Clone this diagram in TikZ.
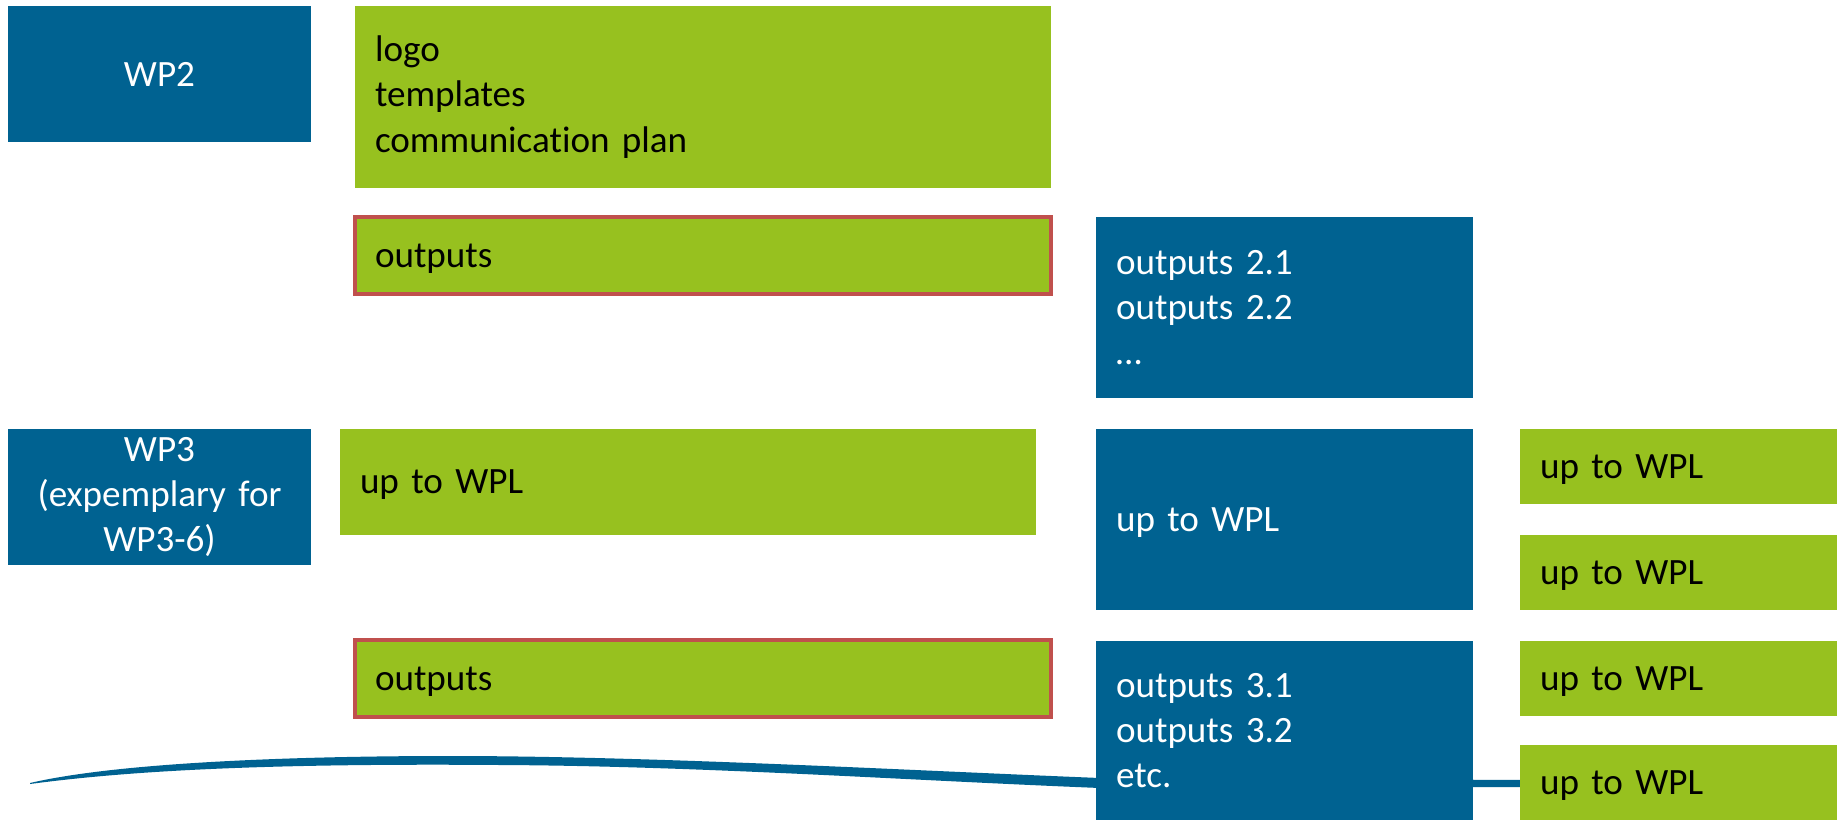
\documentclass[tikz,border=0pt]{standalone}
\usepackage{fontspec}
\setmainfont[Ligatures=NoCommon]{Carlito}
\usetikzlibrary{positioning}
\definecolor{wpblue}{RGB}{0,98,145}
\definecolor{wpgreen}{RGB}{151,193,31}
\definecolor{wpred}{RGB}{192,80,77}

\begin{document}
\begin{tikzpicture}[font=\fontsize{10.56}{12.9}\selectfont,
    box/.style={anchor=north west, inner ysep=0pt, inner xsep=0.2cm, outer sep=0pt},
    one line/.style={text depth=0pt},
    wp node/.style={box, fill=wpblue, text=white, text width=2.63cm, align=center, minimum height=1.36cm},
    task node/.style={box, fill=wpgreen, text=black, text width=6.56cm, align=left},
    out node/.style={task node, one line, draw=wpred, line width=0.045cm, minimum height=0.77cm},
    sub node/.style={box, fill=wpblue, text=white, text width=3.37cm, align=left, minimum height=1.81cm},
    wpl node/.style={box, one line, fill=wpgreen, text=black, text width=2.77cm, align=left, minimum height=0.75cm}]

        \useasboundingbox (0,0) rectangle (18.37,-8.20);

        % Swoosh behind the boxes
        \fill[wpblue] (0.30,-7.83) .. controls (1.20,-7.62) and (3.00,-7.56) .. (4.50,-7.56)
            .. controls (6.50,-7.56) and (9.00,-7.70) .. (11.00,-7.78)
            -- (15.30,-7.80) -- (15.30,-7.87) -- (11.00,-7.88)
            .. controls (9.00,-7.80) and (7.00,-7.66) .. (5.00,-7.65)
            .. controls (2.50,-7.63) and (1.20,-7.72) .. (0.30,-7.84) -- cycle;

        % WP2
        \node[wp node] (wp2) at (0.08,-0.06) {WP2};
        \node[task node, minimum height=1.82cm] (wp2tasks) at (3.55,-0.06) {logo\\templates\\communication plan};
        \node[out node] (wp2out) [below=0.29cm of wp2tasks] {outputs};
        \node[sub node] (wp2sub) at (10.96,-2.17) {outputs 2.1\\outputs 2.2\\…};

        % WP3
        \node[wp node] (wp3) at (0.08,-4.29) {WP3\\(expemplary for\\WP3-6)};
        \node[task node, one line, minimum height=1.06cm] (wp3tasks) at (3.40,-4.29) {up to WPL};
        \node[out node] (wp3out) at (3.55,-6.40) {outputs};
        \node[sub node, one line] (wp3wpl) [below=0.31cm of wp2sub] {up to WPL};
        \node[sub node, minimum height=1.79cm] (wp3sub) [below=0.31cm of wp3wpl] {outputs 3.1\\outputs 3.2\\etc.};

        % WPL column
        \node[wpl node] (wpl1) at (15.20,-4.29) {up to WPL};
        \node[wpl node] (wpl2) [below=0.31cm of wpl1] {up to WPL};
        \node[wpl node] (wpl3) [below=0.31cm of wpl2] {up to WPL};
        \node[wpl node] (wpl4) [below=0.29cm of wpl3] {up to WPL};

\end{tikzpicture}
\end{document}
